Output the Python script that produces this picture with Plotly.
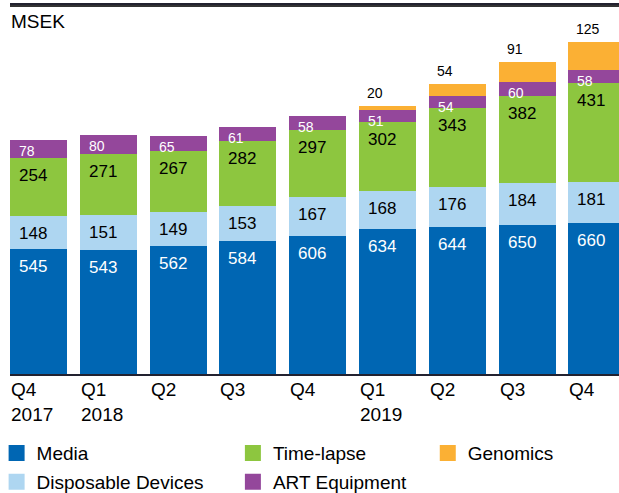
import plotly.graph_objects as go

quarters = ["Q4 2017", "Q1 2018", "Q2 2018", "Q3 2018", "Q4 2018",
            "Q1 2019", "Q2 2019", "Q3 2019", "Q4 2019"]
tick_labels = ["Q4<br>2017", "Q1<br>2018", "Q2", "Q3", "Q4",
               "Q1<br>2019", "Q2", "Q3", "Q4"]

media = [545, 543, 562, 584, 606, 634, 644, 650, 660]
disposable = [148, 151, 149, 153, 167, 168, 176, 184, 181]
timelapse = [254, 271, 267, 282, 297, 302, 343, 382, 431]
art = [78, 80, 65, 61, 58, 51, 54, 60, 58]
genomics = [None, None, None, None, None, 20, 54, 91, 125]

FONT = "Liberation Sans, Arial, Helvetica, sans-serif"
W = 0.816  # bar width in category units

series = [
    dict(name="Media", vals=media, color="#0066B3", tc="white", ts=17, ys=-6, legend="legend"),
    dict(name="Disposable Devices", vals=disposable, color="#AED6F1", tc="black", ts=17, ys=-6, legend="legend"),
    dict(name="Time-lapse", vals=timelapse, color="#8DC63F", tc="black", ts=17, ys=-6, legend="legend2"),
    dict(name="ART Equipment", vals=art, color="#94479B", tc="white", ts=14, ys=-1, legend="legend2"),
    dict(name="Genomics", vals=genomics, color="#FBB034", tc="black", ts=14, ys=0, legend="legend3"),
]

fig = go.Figure()
annotations = []
base = [0] * len(quarters)

for s in series:
    fig.add_trace(go.Bar(
        x=quarters, y=s["vals"], name=s["name"], width=W,
        marker=dict(color=s["color"], line=dict(width=0)),
        showlegend=False, hoverinfo="skip"))
    fig.add_trace(go.Scatter(
        x=[None], y=[None], mode="markers", name=s["name"],
        marker=dict(symbol="square", size=16, color=s["color"]),
        legend=s["legend"], legendgroup=s["name"], showlegend=True))
    for i, v in enumerate(s["vals"]):
        if v is None:
            continue
        top = base[i] + v
        if s["name"] == "Genomics":
            annotations.append(dict(
                x=i - W / 2, y=top, xref="x", yref="y", text=str(v),
                xanchor="left", yanchor="bottom", xshift=6, yshift=3,
                showarrow=False, font=dict(size=s["ts"], color=s["tc"], family=FONT)))
        else:
            annotations.append(dict(
                x=i - W / 2, y=top, xref="x", yref="y", text=str(v),
                xanchor="left", yanchor="top", xshift=7, yshift=s["ys"],
                showarrow=False, font=dict(size=s["ts"], color=s["tc"], family=FONT)))
        base[i] = top

# x tick labels, left aligned with the bar edges
for i, t in enumerate(tick_labels):
    annotations.append(dict(
        x=i - W / 2, y=0, xref="x", yref="y", text=t, align="left",
        xanchor="left", yanchor="top", xshift=-1, yshift=-3,
        showarrow=False, font=dict(size=19, color="black", family=FONT)))

annotations.append(dict(
    x=0, y=1, xref="paper", yref="paper", text="MSEK",
    xanchor="left", yanchor="top", yshift=-4, xshift=-1, showarrow=False,
    font=dict(size=19, color="black", family=FONT)))

legend_common = dict(orientation="v", xanchor="left", yanchor="top",
                     font=dict(size=19, color="black", family=FONT),
                     bgcolor="rgba(0,0,0,0)", tracegroupgap=1,
                     itemsizing="trace", yref="paper")

fig.update_layout(
    width=619, height=493,
    margin=dict(l=10, r=0, t=5, b=119, autoexpand=False),
    paper_bgcolor="white", plot_bgcolor="white",
    barmode="stack", bargap=0.184,
    font=dict(family=FONT, color="black"),
    xaxis=dict(type="category", range=[-W / 2, -W / 2 + 609 / 69.8],
               showticklabels=False, ticks="", showgrid=False, zeroline=False,
               showline=True, mirror=True, linecolor="#222230", linewidth=1.5,
               fixedrange=True),
    yaxis=dict(range=[0, 1615], visible=False, showgrid=False, zeroline=False,
               fixedrange=True),
    annotations=annotations,
    shapes=[dict(type="line", xref="paper", yref="paper", x0=0, x1=1, y0=0.997, y1=0.997,
                 line=dict(color="#333333", width=2), layer="above")],
    legend=dict(x=-0.022, y=-0.163, **legend_common),
    legend2=dict(x=0.366, y=-0.163, **legend_common),
    legend3=dict(x=0.686, y=-0.163, **legend_common),
    showlegend=True,
)

fig.write_html("out.html", config={"displayModeBar": False},
               post_script="document.body.style.margin='0';document.body.style.overflow='hidden';")
